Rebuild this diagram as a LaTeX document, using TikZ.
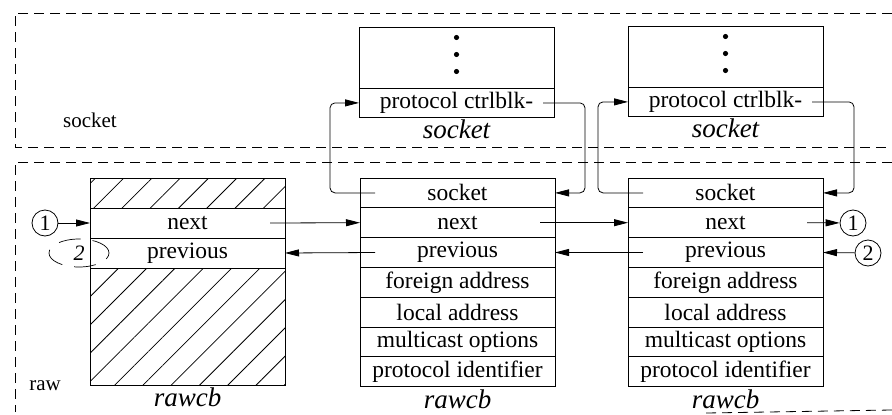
\documentclass[tikz,border=0pt]{standalone}
\usepackage{fontspec}
\setmainfont{Liberation Serif}
\usetikzlibrary{shapes.geometric, positioning, arrows.meta, calc, patterns.meta}

\begin{document}
\begin{tikzpicture}[
        x=1pt, y=-1pt,
        % Define styles for the nodes
        field/.style={draw, line width=0.9pt, minimum width=195pt, minimum height=29.8pt, inner sep=0pt, outer sep=0pt, font=\fontsize{23.5}{26}\selectfont},
        hatched/.style={field, pattern={Lines[angle=45, distance=20pt, line width=0.8pt]}},
        struct_name/.style={font=\fontsize{27}{30}\selectfont\itshape, inner sep=0pt},
        region_label/.style={font=\fontsize{21}{24}\selectfont, inner sep=0pt},
        marker/.style={draw, circle, line width=0.8pt, minimum size=26pt, inner sep=0pt, font=\fontsize{22}{24}\selectfont},
        region/.style={dash pattern=on 10pt off 6pt, line width=0.8pt},
        ptr/.style={-{Triangle[length=14pt, width=7pt]}, line width=0.8pt},
        link/.style={ptr, rounded corners=5pt}
    ]
    \useasboundingbox (0,0) rectangle (892,415);

    % === dashed regions ===
    \draw [region] (892,13) -| (15,147) -- (892,147);
    \draw [region] (892,162) -| (15,412);
    \draw [region] (706,413) -- (892,410);
    \node (socket_label) [region_label] at (90,120) {socket};
    \node (raw_label) [region_label] at (45,386) {raw};

    % === socket structures ===
    \node (dotsA) [field, minimum height=61pt, anchor=north west] at (359,27) {};
    \node (ctrlA) [field, below=0pt of dotsA] {protocol ctrlblk-};
    \node (sockA_name) [struct_name, below=2pt of ctrlA] {socket};
    \foreach \dy in {20,3,-14}
        \fill ([yshift=\dy pt]dotsA.center) circle (2.6pt);

    \node (dotsB) [field, minimum height=61pt, anchor=north west] at (628,26) {};
    \node (ctrlB) [field, below=0pt of dotsB] {protocol ctrlblk-};
    \node (sockB_name) [struct_name, below=2pt of ctrlB] {socket};
    \foreach \dy in {20,3,-14}
        \fill ([yshift=\dy pt]dotsB.center) circle (2.6pt);

    % === left rawcb (list head) ===
    \node (lTop) [hatched, minimum height=30pt, anchor=north west] at (90,178) {};
    \node (lNext) [field, minimum height=30pt, below=0pt of lTop] {next};
    \node (lPrev) [field, minimum height=30pt, below=0pt of lNext] {previous};
    \node (lBot) [hatched, minimum height=117pt, below=0pt of lPrev] {};
    \node (lName) [struct_name, below=3pt of lBot] {rawcb};

    % === middle rawcb ===
    \node (mSock) [field, anchor=north west] at (360,178) {socket};
    \node (mNext) [field, below=0pt of mSock] {next};
    \node (mPrev) [field, below=0pt of mNext] {previous};
    \node (mForeign) [field, below=0pt of mPrev] {foreign address};
    \node (mLocal) [field, below=0pt of mForeign] {local address};
    \node (mMcast) [field, below=0pt of mLocal] {multicast options};
    \node (mProto) [field, below=0pt of mMcast] {protocol identifier};
    \node (mName) [struct_name, below=3pt of mProto] {rawcb};

    % === right rawcb ===
    \node (rSock) [field, anchor=north west] at (628,178) {socket};
    \node (rNext) [field, below=0pt of rSock] {next};
    \node (rPrev) [field, below=0pt of rNext] {previous};
    \node (rForeign) [field, below=0pt of rPrev] {foreign address};
    \node (rLocal) [field, below=0pt of rForeign] {local address};
    \node (rMcast) [field, below=0pt of rLocal] {multicast options};
    \node (rProto) [field, below=0pt of rMcast] {protocol identifier};
    \node (rName) [struct_name, below=3pt of rProto] {rawcb};

    % === wrap-around markers ===
    \node (c1L) [marker] at (45,223) {1};
    \node (c2L) [ellipse, draw, dash pattern=on 22pt off 12pt, line width=0.7pt, minimum width=60pt, minimum height=28pt, inner sep=0pt, font=\fontsize{22}{24}\selectfont\itshape] at (79,253) {2};
    \node (c1R) [marker] at (853,223) {1};
    \node (c2R) [marker] at (868,253) {2};

    % === socket <-> pcb links ===
    \draw [link] ([xshift=15pt]mSock.west) -- ++(-45,0) |- (ctrlA.west);
    \draw [link] ([xshift=-11pt]ctrlA.east) -- ++(42,0) |- (mSock.east);
    \draw [link] ([xshift=15pt]rSock.west) -- ++(-45,0) |- (ctrlB.west);
    \draw [link] ([xshift=-11pt]ctrlB.east) -- ++(42,0) |- (rSock.east);

    % === next / previous chain ===
    \draw [ptr] (c1L) -- (lNext.west);
    \draw [ptr] ([xshift=-15pt]lNext.east) -- (mNext.west);
    \draw [ptr] ([xshift=-15pt]mNext.east) -- (rNext.west);
    \draw [ptr] ([xshift=-16pt]rNext.east) -- (c1R);
    \draw [ptr] (c2R) -- (rPrev.east);
    \draw [ptr] ([xshift=15pt]rPrev.west) -- (mPrev.east);
    \draw [ptr] ([xshift=15pt]mPrev.west) -- (lPrev.east);

\end{tikzpicture}
\end{document}
